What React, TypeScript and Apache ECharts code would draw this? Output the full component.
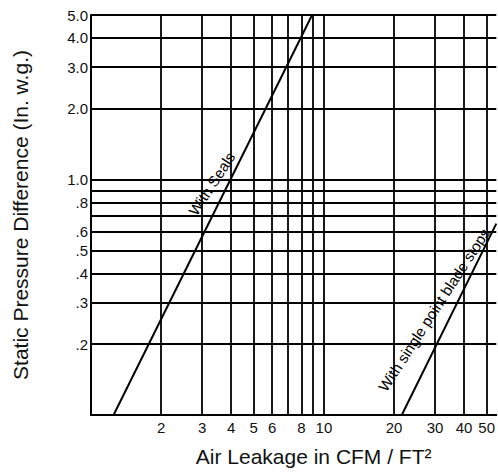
import React, { useEffect, useRef } from "react";
import * as echarts from "echarts";

// Gridline / tick values (original units)
const xGridValues = [2, 3, 4, 5, 6, 7, 8, 9, 10, 20, 30, 40, 50];
const xLabelValues = [2, 3, 4, 5, 6, 8, 10, 20, 30, 40, 50];
const yGridValues = [0.2, 0.3, 0.4, 0.5, 0.6, 0.7, 0.8, 0.9, 1, 2, 3, 4, 5];
const yLabelValues = [0.2, 0.3, 0.4, 0.5, 0.6, 0.8, 1, 2, 3, 4, 5];
const yLabelTexts = [".2", ".3", ".4", ".5", ".6", ".8", "1.0", "2.0", "3.0", "4.0", "5.0"];

const xMin = 1;
const xMax = 55;
const yMin = 0.1;
const yMax = 5;

// Series (air leakage CFM/ft², static pressure in. w.g.)
const seriesNames = ["With Seals", "With single point blade stops"];
const sealsLeakage = [1.25, 8.9];
const sealsPressure = [0.1, 5.0];
const stopsLeakage = [21.6, 55];
const stopsPressure = [0.1, 0.65];

const FONT = "'Liberation Sans', Arial, Helvetica, sans-serif";
const L = (v: number) => Math.log10(v);

function findLabel(values: number[], texts: string[], v: number): string {
  for (let i = 0; i < values.length; i++) {
    if (Math.abs(L(values[i]) - v) < 1e-6) return texts[i];
  }
  return "";
}

export default function App() {
  const ref = useRef<HTMLDivElement>(null);
  useEffect(() => {
    if (!ref.current) return;
    const chart = echarts.init(ref.current, undefined, { renderer: "svg" });
    const sealsData = sealsLeakage.map((x, i) => [L(x), L(sealsPressure[i])]);
    const stopsData = stopsLeakage.map((x, i) => [L(x), L(stopsPressure[i])]);
    const lineStyle = { color: "#000", width: 2 };
    const annot = (text: string) => ({
      show: true,
      position: "inside",
      formatter: text,
      rotate: 57,
      fontSize: 15,
      color: "#000",
      fontFamily: FONT,
    });
    const option: any = {
      animation: false,
      grid: { left: 91, right: 0, top: 15, bottom: 53 },
      xAxis: {
        type: "value",
        min: L(xMin),
        max: L(xMax),
        name: "Air Leakage in CFM / FT²",
        nameLocation: "middle",
        nameGap: 31,
        nameTextStyle: { fontSize: 21, color: "#111", fontFamily: FONT, padding: [0, 0, 0, 40] },
        axisLine: { show: true, onZero: false, lineStyle: { color: "#000", width: 2 } },
        axisTick: { show: false, customValues: xGridValues.map(L) },
        axisLabel: {
          customValues: xLabelValues.map(L),
          formatter: (v: number) => findLabel(xLabelValues, xLabelValues.map(String), v),
          fontSize: 15,
          color: "#111",
          fontFamily: FONT,
          margin: 5,
        },
        splitLine: { show: true, lineStyle: { color: "#000", width: 1.8 } },
      },
      yAxis: {
        type: "value",
        min: L(yMin),
        max: L(yMax),
        name: "Static Pressure Difference (In. w.g.)",
        nameLocation: "middle",
        nameGap: 60,
        nameTextStyle: { fontSize: 21, color: "#111", fontFamily: FONT },
        axisLine: { show: true, onZero: false, lineStyle: { color: "#000", width: 2 } },
        axisTick: { show: false, customValues: yGridValues.map(L) },
        axisLabel: {
          customValues: yLabelValues.map(L),
          formatter: (v: number) => findLabel(yLabelValues, yLabelTexts, v),
          fontSize: 15,
          color: "#111",
          fontFamily: FONT,
          margin: 3,
        },
        splitLine: { show: true, lineStyle: { color: "#000", width: 1.8 } },
      },
      series: [
        {
          name: seriesNames[0],
          type: "line",
          data: sealsData,
          symbol: "none",
          lineStyle,
          markPoint: {
            symbol: "circle",
            symbolSize: 0,
            data: [{ coord: [L(3.3), L(0.96)], label: annot(seriesNames[0]) }],
          },
        },
        {
          name: seriesNames[1],
          type: "line",
          data: stopsData,
          symbol: "none",
          lineStyle,
          markPoint: {
            symbol: "circle",
            symbolSize: 0,
            data: [{ coord: [L(29.7), L(0.28)], label: annot(seriesNames[1]) }],
          },
        },
      ],
    };
    chart.setOption(option);
    return () => chart.dispose();
  }, []);
  return <div ref={ref} style={{ width: 498, height: 472, position: "absolute", left: 0, top: 0, background: "#fff" }} />;
}
